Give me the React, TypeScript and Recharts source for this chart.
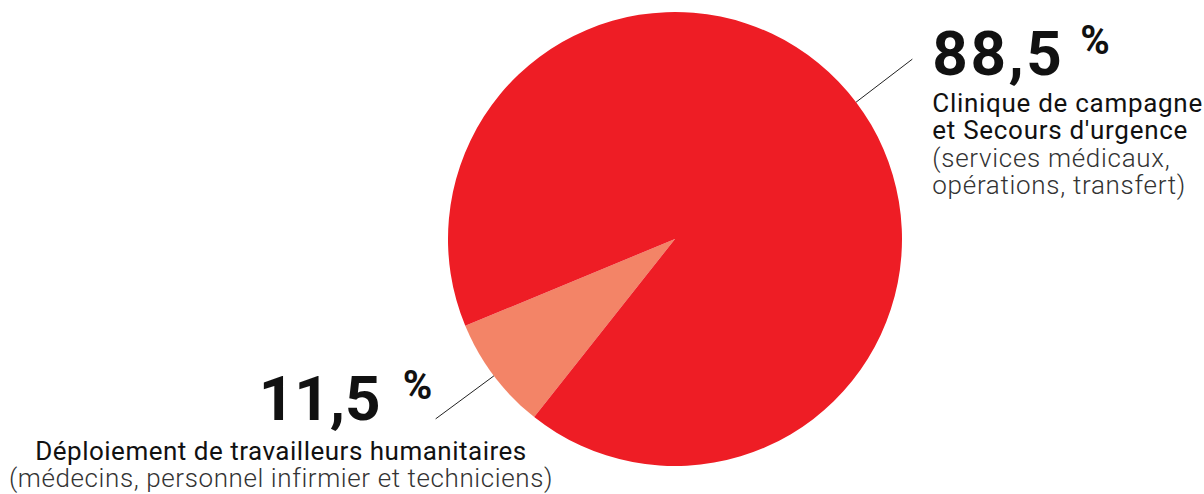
import { PieChart, Pie, Cell } from 'recharts';

// shares as drawn in the picture (the small wedge spans about 29 degrees)
const sliceNames = ['Déploiement de travailleurs humanitaires', 'Clinique de campagne et Secours d\'urgence'];
const sliceShares = [8.1, 91.9];
const percentLabels = ['11,5', '88,5'];
const titleLines = [
  ['Déploiement de travailleurs humanitaires'],
  ['Clinique de campagne', 'et Secours d\'urgence'],
];
const noteLines = [
  ['(médecins, personnel infirmier et techniciens)'],
  ['(services médicaux,', 'opérations, transfert)'],
];
const sliceColors = ['#F38467', '#EE1D25'];

const data = sliceNames.map((name, i) => ({ name, value: sliceShares[i] }));

const RADIAN = Math.PI / 180;
const FONT = 'Roboto, "Liberation Sans", sans-serif';

const renderLabel = ({ cx, cy, midAngle, outerRadius, index }: any) => {
  const cos = Math.cos(-midAngle * RADIAN);
  const sin = Math.sin(-midAngle * RADIAN);
  const x0 = cx + outerRadius * cos;
  const y0 = cy + outerRadius * sin;
  const x1 = cx + (outerRadius + 68) * cos + (index === 0 ? -4 : 2);
  const y1 = cy + (outerRadius + 68) * sin + (index === 0 ? 2 : -2);

  if (index === 1) {
    // right-hand block, left aligned
    const tx = x1 + 20;
    return (
      <g>
        <line x1={x0} y1={y0} x2={x1} y2={y1} stroke="#222" strokeWidth={1} />
        <text x={tx} y={y1 + 16} fontFamily={FONT} fontSize={62} fontWeight={700} letterSpacing={2.5} fill="#111">
          {percentLabels[index]}
        </text>
        <text x={tx + 148} y={y1 - 5} fontFamily={FONT} fontSize={40} fontWeight={700} fill="#111">%</text>
        {titleLines[index].map((t, k) => (
          <text key={t} x={tx} y={y1 + 53 + k * 27.3} fontFamily={FONT} fontSize={26} letterSpacing={0.7} fill="#111">{t}</text>
        ))}
        {noteLines[index].map((t, k) => (
          <text key={t} x={tx} y={y1 + 108 + k * 27.3} fontFamily={FONT} fontSize={26} fontWeight={300} letterSpacing={0.7} fill="#333">{t}</text>
        ))}
      </g>
    );
  }

  // left-hand block, centred under the number
  const centre = 281;
  return (
    <g>
      <line x1={x0} y1={y0} x2={x1} y2={y1} stroke="#222" strokeWidth={1} />
      <text x={x1 - 55} y={y1 + 1} textAnchor="end" fontFamily={FONT} fontSize={62} fontWeight={700} fill="#111">
        {percentLabels[index]}
      </text>
      <text x={x1 - 33} y={y1 - 20} fontFamily={FONT} fontSize={40} fontWeight={700} fill="#111">%</text>
      {titleLines[index].map((t, k) => (
        <text key={t} x={centre} y={y1 + 41 + k * 27} textAnchor="middle" fontFamily={FONT} fontSize={26} letterSpacing={0.5} fill="#111">{t}</text>
      ))}
      {noteLines[index].map((t, k) => (
        <text key={t} x={centre} y={y1 + 68 + k * 27} textAnchor="middle" fontFamily={FONT} fontSize={26} fontWeight={300} letterSpacing={0.6} fill="#333">{t}</text>
      ))}
    </g>
  );
};

export default function App() {
  return (
    <div style={{ width: 1204, height: 494, background: '#fff' }}>
      <style>{'body{margin:0}'}</style>
      <PieChart width={1204} height={494} margin={{ top: 0, right: 0, bottom: 0, left: 0 }}>
        <Pie
          data={data}
          dataKey="value"
          nameKey="name"
          cx={675}
          cy={239}
          outerRadius={227}
          startAngle={202.5}
          endAngle={562.5}
          stroke="none"
          label={renderLabel}
          labelLine={false}
          isAnimationActive={false}
        >
          {data.map((d, i) => (
            <Cell key={d.name} fill={sliceColors[i]} />
          ))}
        </Pie>
      </PieChart>
    </div>
  );
}
